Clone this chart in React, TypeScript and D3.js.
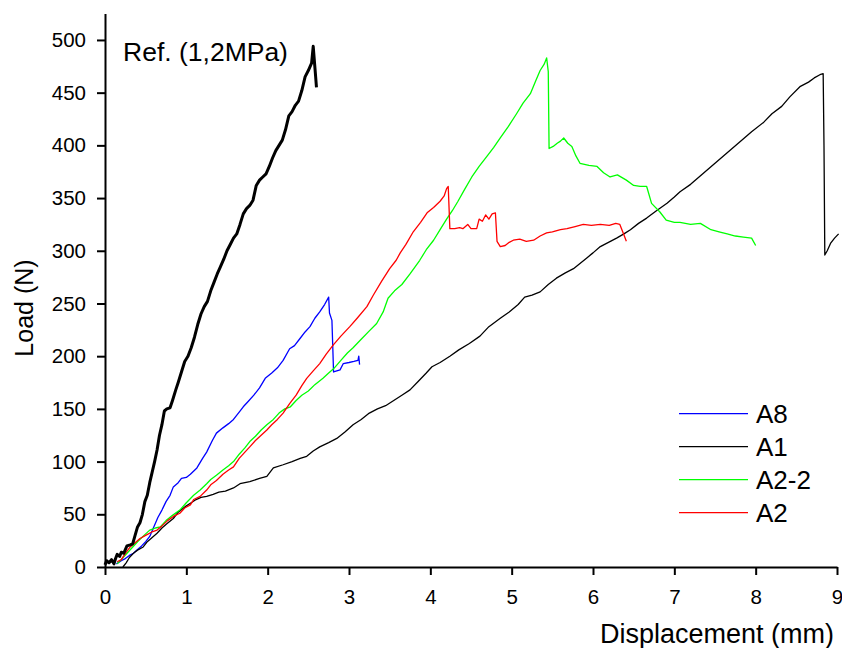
import React, { useEffect, useRef } from 'react';
import * as d3 from 'd3';

// load-displacement curves, [displacement mm, load N]
const refCurve: [number, number][] = [
    [0, 2], [0.02, 6], [0.05, 4], [0.08, 7], [0.11, 3], [0.13, 8], [0.15, 12], [0.18, 10], [0.2, 14], [0.23, 13],
    [0.27, 20], [0.31, 21], [0.34, 22], [0.37, 30], [0.4, 38], [0.43, 42], [0.46, 50], [0.49, 62], [0.52, 68],
    [0.55, 80], [0.58, 90], [0.61, 100], [0.64, 111], [0.67, 125], [0.7, 135], [0.73, 148], [0.76, 150], [0.8, 151],
    [0.83, 158], [0.87, 168], [0.9, 175], [0.94, 185], [0.98, 195], [1.02, 200], [1.06, 208], [1.1, 218], [1.14, 230],
    [1.18, 240], [1.22, 247], [1.26, 252], [1.3, 262], [1.34, 270], [1.38, 278], [1.42, 285], [1.46, 292], [1.5, 300],
    [1.54, 306], [1.58, 312], [1.62, 316], [1.66, 325], [1.7, 335], [1.74, 340], [1.78, 343], [1.82, 348], [1.86, 362],
    [1.9, 367], [1.94, 370], [1.98, 373], [2.02, 380], [2.06, 388], [2.1, 395], [2.14, 400], [2.18, 405], [2.22, 415],
    [2.26, 428], [2.3, 432], [2.34, 438], [2.38, 442], [2.42, 452], [2.46, 465], [2.5, 471], [2.54, 478], [2.56, 494],
    [2.59, 465], [2.6, 455],
];

const a8: [number, number][] = [
    [0.14, 3], [0.2, 6], [0.25, 8], [0.3, 11], [0.35, 13], [0.39, 16], [0.45, 20], [0.5, 24], [0.55, 29], [0.6, 38],
    [0.65, 47], [0.7, 54], [0.75, 62], [0.8, 68], [0.84, 76], [0.9, 80], [0.94, 84], [1.0, 85], [1.05, 88], [1.13, 94],
    [1.2, 103], [1.25, 109], [1.32, 120], [1.37, 127], [1.45, 132], [1.52, 136], [1.58, 140], [1.65, 147], [1.7, 152],
    [1.76, 157], [1.83, 163], [1.9, 170], [1.97, 179], [2.05, 184], [2.12, 189], [2.19, 196], [2.27, 207], [2.33, 210],
    [2.4, 217], [2.46, 223], [2.52, 228], [2.58, 236], [2.64, 242], [2.7, 249], [2.75, 256], [2.76, 241], [2.79, 234],
    [2.8, 210], [2.81, 185], [2.85, 186], [2.89, 187], [2.93, 193], [3.0, 194], [3.06, 195], [3.11, 196], [3.12, 200],
    [3.13, 192],
];

const a1: [number, number][] = [
    [0.22, 0], [0.26, 4], [0.3, 9], [0.35, 13], [0.4, 16], [0.47, 19], [0.52, 24], [0.58, 28], [0.64, 32], [0.7, 37],
    [0.76, 41], [0.84, 46], [0.9, 52], [0.95, 55], [1.0, 58], [1.06, 61], [1.12, 64], [1.18, 66], [1.25, 67], [1.33, 69],
    [1.4, 71], [1.48, 72], [1.58, 75], [1.66, 79], [1.78, 81], [1.9, 84], [1.99, 86], [2.07, 94], [2.19, 97], [2.3, 100],
    [2.4, 103], [2.48, 105], [2.56, 110], [2.64, 114], [2.75, 118], [2.85, 122], [2.95, 128], [3.05, 135], [3.15, 140],
    [3.25, 146], [3.35, 150], [3.45, 153], [3.55, 158], [3.65, 163], [3.75, 168], [3.85, 176], [3.95, 184], [4.02, 190],
    [4.12, 194], [4.24, 200], [4.35, 206], [4.48, 212], [4.61, 219], [4.72, 228], [4.86, 236], [4.97, 242], [5.08, 249],
    [5.16, 256], [5.25, 258], [5.35, 261], [5.45, 268], [5.55, 274], [5.66, 279], [5.76, 283], [5.84, 288], [5.92, 293],
    [6.0, 298], [6.09, 304], [6.19, 308], [6.29, 312], [6.38, 316], [6.46, 320], [6.56, 326], [6.66, 331], [6.78, 338],
    [6.91, 345], [7.0, 351], [7.07, 356], [7.2, 363], [7.35, 373], [7.5, 383], [7.65, 393], [7.8, 403], [7.95, 413],
    [8.1, 422], [8.2, 430], [8.32, 437], [8.42, 446], [8.55, 456], [8.65, 460], [8.72, 464], [8.79, 467], [8.83, 468],
    [8.84, 400], [8.85, 296], [8.88, 300], [8.92, 307], [8.97, 312], [9.02, 316],
];

const a22: [number, number][] = [
    [0.15, 3], [0.2, 7], [0.27, 13], [0.33, 18], [0.4, 24], [0.48, 30], [0.55, 35], [0.62, 37], [0.68, 38], [0.75, 44],
    [0.83, 49], [0.92, 54], [1.0, 61], [1.09, 68], [1.17, 73], [1.25, 79], [1.3, 83], [1.37, 87], [1.45, 92], [1.52, 96],
    [1.58, 100], [1.65, 107], [1.72, 113], [1.78, 119], [1.85, 124], [1.92, 130], [1.99, 135], [2.07, 140], [2.14, 146],
    [2.21, 150], [2.28, 152], [2.35, 158], [2.42, 163], [2.5, 167], [2.58, 173], [2.68, 179], [2.75, 184], [2.81, 188],
    [2.9, 196], [2.98, 203], [3.05, 208], [3.15, 216], [3.25, 224], [3.34, 231], [3.42, 242], [3.48, 255], [3.56, 262],
    [3.65, 268], [3.75, 278], [3.87, 291], [3.95, 301], [4.04, 310], [4.12, 320], [4.2, 330], [4.27, 338], [4.34, 347],
    [4.42, 358], [4.51, 370], [4.6, 380], [4.7, 390], [4.78, 398], [4.86, 407], [4.96, 418], [5.06, 430], [5.14, 440],
    [5.23, 449], [5.3, 462], [5.35, 471], [5.4, 477], [5.43, 483], [5.45, 470], [5.46, 397], [5.51, 399], [5.56, 402],
    [5.6, 404], [5.64, 407], [5.69, 402], [5.74, 399], [5.79, 390], [5.84, 383], [5.95, 381], [6.05, 380], [6.13, 374],
    [6.21, 370], [6.3, 372], [6.41, 367], [6.5, 362], [6.58, 361], [6.66, 361], [6.72, 345], [6.82, 337], [6.9, 329],
    [7.0, 327], [7.07, 327], [7.2, 325], [7.32, 326], [7.45, 320], [7.55, 318], [7.65, 316], [7.75, 314], [7.85, 313],
    [7.95, 312], [8.0, 305],
];

const a2: [number, number][] = [
    [0.15, 5], [0.2, 7], [0.25, 13], [0.31, 19], [0.37, 23], [0.43, 27], [0.5, 30], [0.57, 33], [0.64, 35], [0.7, 39],
    [0.77, 44], [0.84, 48], [0.92, 51], [0.98, 56], [1.05, 59], [1.09, 64], [1.17, 67], [1.25, 73], [1.3, 78], [1.37, 82],
    [1.45, 88], [1.52, 92], [1.58, 95], [1.65, 103], [1.72, 109], [1.78, 114], [1.85, 120], [1.92, 125], [1.99, 130],
    [2.05, 135], [2.12, 140], [2.19, 146], [2.27, 155], [2.35, 163], [2.42, 172], [2.48, 179], [2.56, 186], [2.64, 193],
    [2.72, 202], [2.81, 211], [2.9, 219], [3.01, 228], [3.1, 236], [3.22, 247], [3.3, 258], [3.4, 271], [3.5, 283],
    [3.58, 291], [3.63, 298], [3.7, 306], [3.79, 318], [3.88, 327], [3.96, 336], [4.04, 341], [4.12, 347], [4.17, 352],
    [4.2, 359], [4.22, 361], [4.24, 321], [4.3, 321], [4.36, 322], [4.4, 321], [4.46, 325], [4.5, 321], [4.57, 321],
    [4.6, 330], [4.64, 328], [4.68, 334], [4.72, 330], [4.76, 335], [4.8, 336], [4.82, 309], [4.86, 304], [4.92, 305],
    [4.97, 308], [5.02, 310], [5.1, 311], [5.18, 309], [5.27, 310], [5.35, 314], [5.43, 317], [5.5, 318], [5.6, 320],
    [5.68, 321], [5.78, 323], [5.88, 325], [5.98, 324], [6.09, 325], [6.2, 324], [6.28, 326], [6.33, 325], [6.37, 317],
    [6.41, 309],
];

const legendNames = ['A8', 'A1', 'A2-2', 'A2'];
const legendColors = ['#0000ff', '#000000', '#00ff00', '#ff0000'];
const xTicks = [0, 1, 2, 3, 4, 5, 6, 7, 8, 9];
const yTicks = [0, 50, 100, 150, 200, 250, 300, 350, 400, 450, 500];

const FONT = '"Liberation Sans", Arial, sans-serif';

const App = () => {
    const svgRef = useRef<SVGSVGElement>(null);

    useEffect(() => {
        const svg = d3.select(svgRef.current);
        svg.selectAll('*').remove();

        const x = d3.scaleLinear().domain([0, 9]).range([105, 837]);
        const y = d3.scaleLinear().domain([0, 525]).range([567, 13.6]);

        // curves
        const line = d3.line<[number, number]>()
            .x(d => x(d[0]))
            .y(d => y(d[1]));

        const series = [
            { data: a8, color: legendColors[0], w: 1.3 },
            { data: a1, color: legendColors[1], w: 1.3 },
            { data: a22, color: legendColors[2], w: 1.3 },
            { data: a2, color: legendColors[3], w: 1.3 },
            { data: refCurve, color: '#000', w: 3 },
        ];
        series.forEach(s => {
            svg.append('path')
                .attr('d', line(s.data))
                .attr('fill', 'none')
                .attr('stroke', s.color)
                .attr('stroke-width', s.w)
                .attr('stroke-linejoin', 'round');
        });

        // axes
        const xAxis = svg.append('g').attr('transform', 'translate(0,567)');
        xAxis.call(d3.axisBottom(x).tickValues(d3.range(0.5, 9, 1)).tickSize(5).tickFormat(() => '').tickSizeOuter(0));
        xAxis.call(d3.axisBottom(x).tickValues(xTicks).tickSize(8).tickPadding(14).tickFormat(d3.format('d')).tickSizeOuter(0));

        const yAxis = svg.append('g').attr('transform', 'translate(105,0)');
        yAxis.call(d3.axisLeft(y).tickValues(d3.range(25, 525, 50)).tickSize(5).tickFormat(() => '').tickSizeOuter(0));
        yAxis.call(d3.axisLeft(y).tickValues(yTicks).tickSize(8).tickPadding(11).tickFormat(d3.format('d')).tickSizeOuter(0));

        svg.selectAll('.domain').attr('stroke', '#000').attr('stroke-width', 2);
        svg.selectAll('.tick line').attr('stroke', '#000').attr('stroke-width', 2);
        svg.selectAll('.tick text')
            .attr('fill', '#000')
            .attr('font-family', FONT)
            .attr('font-size', 20.5);

        // titles
        svg.append('text')
            .attr('transform', 'translate(33,308) rotate(-90)')
            .attr('text-anchor', 'middle')
            .attr('font-family', FONT)
            .attr('font-size', 25)
            .text('Load (N)');

        svg.append('text')
            .attr('x', 834)
            .attr('y', 643)
            .attr('text-anchor', 'end')
            .attr('font-family', FONT)
            .attr('font-size', 27)
            .text('Displacement (mm)');

        svg.append('text')
            .attr('x', 123)
            .attr('y', 61)
            .attr('font-family', FONT)
            .attr('font-size', 26.5)
            .text('Ref. (1,2MPa)');

        // legend
        const legend = svg.append('g');
        legendNames.forEach((name, i) => {
            const ly = 413.7 + i * 33;
            legend.append('line')
                .attr('x1', 679).attr('x2', 748)
                .attr('y1', ly).attr('y2', ly)
                .attr('stroke', legendColors[i])
                .attr('stroke-width', 1.2);
            legend.append('text')
                .attr('x', 756)
                .attr('y', ly + 9.5)
                .attr('font-family', FONT)
                .attr('font-size', 26)
                .text(name);
        });
    }, []);

    return (
        <svg ref={svgRef} width={842} height={648}
            style={{ position: 'absolute', left: 0, top: 0, background: '#fff' }} />
    );
};

export default App;
